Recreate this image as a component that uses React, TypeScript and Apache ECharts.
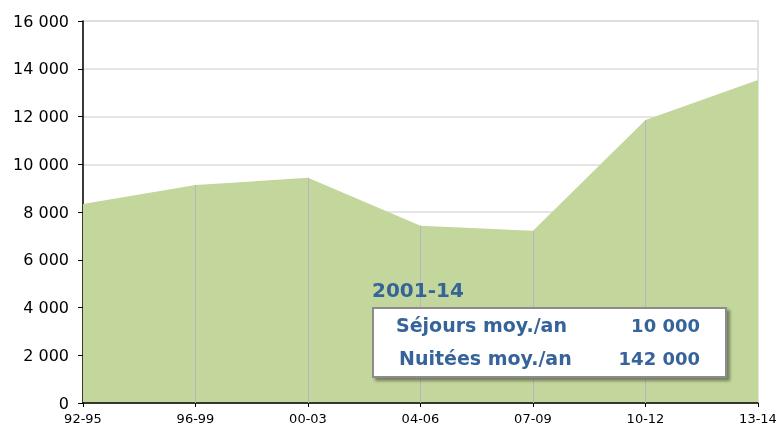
import React, { useEffect, useRef } from "react";
import * as echarts from "echarts";

const categories = ["92-95", "96-99", "00-03", "04-06", "07-09", "10-12", "13-14"];
const values = [8330, 9130, 9430, 7420, 7210, 11850, 13530];
const boxTitle = "2001-14";
const boxLabels = ["Séjours moy./an", "Nuitées moy./an"];
const boxValues = ["10 000", "142 000"];

const fmt = (v: number) => (v >= 1000 ? String(v).replace(/\B(?=(\d{3})+(?!\d))/g, " ") : String(v));

export default function App() {
  const ref = useRef<HTMLDivElement>(null);
  useEffect(() => {
    if (!ref.current) return;
    const chart = echarts.init(ref.current, undefined, { renderer: "svg" });
    const blue = "#36649a";
    const font = "Tahoma, 'DejaVu Sans', sans-serif";
    const dropLines = values.slice(1, values.length - 1).map((v, i) => [
      { coord: [i + 1, 0] },
      { coord: [i + 1, v] },
    ]);
    chart.setOption({
      animation: false,
      grid: {
        left: 83,
        right: 21,
        top: 21,
        bottom: 25,
        show: true,
        borderColor: "#d9d9d9",
        borderWidth: 1.5,
        containLabel: false,
        outerBoundsMode: "none",
      },
      xAxis: {
        type: "category",
        data: categories,
        boundaryGap: false,
        z: 3,
        axisLine: { lineStyle: { color: "#000", width: 1.5 } },
        axisTick: { show: true, length: 4, lineStyle: { color: "#000" } },
        axisLabel: { color: "#000", fontSize: 13, fontFamily: font, margin: 9 },
        splitLine: { show: false },
      },
      yAxis: {
        type: "value",
        min: 0,
        max: 16000,
        interval: 2000,
        axisLine: { show: true, lineStyle: { color: "#000", width: 1.5 } },
        axisTick: { show: true, length: 5, lineStyle: { color: "#000" } },
        axisLabel: { color: "#000", fontSize: 16, fontFamily: font, margin: 14, formatter: (v: number) => fmt(v) },
        splitLine: { show: true, lineStyle: { color: "#dcdcdc", width: 1.5 } },
      },
      series: [
        {
          type: "line",
          data: values,
          symbol: "none",
          z: 2,
          lineStyle: { width: 0, color: "#c3d69b" },
          itemStyle: { color: "#c3d69b" },
          areaStyle: { color: "#c3d69b", opacity: 1 },
          markLine: {
            silent: true,
            symbol: "none",
            label: { show: false },
            lineStyle: { color: "#b4b6c4", width: 1, type: "solid", opacity: 1 },
            data: dropLines,
          },
        },
      ],
      graphic: [
        {
          type: "text",
          left: 372,
          top: 280,
          z: 100,
          style: { text: boxTitle, fill: blue, font: `bold 20px ${font}` },
        },
        {
          type: "rect",
          shape: { x: 373, y: 308, width: 353, height: 69 },
          z: 100,
          style: {
            fill: "#fff",
            stroke: "#8c8c8c",
            lineWidth: 2,
            shadowBlur: 3,
            shadowOffsetX: 3,
            shadowOffsetY: 3,
            shadowColor: "rgba(0,0,0,0.4)",
          },
        },
        {
          type: "text",
          x: 396,
          y: 325,
          z: 101,
          style: { text: boxLabels[0], fill: blue, font: `bold 19px ${font}`, textVerticalAlign: "middle" },
        },
        {
          type: "text",
          x: 399,
          y: 358,
          z: 101,
          style: { text: boxLabels[1], fill: blue, font: `bold 19px ${font}`, textVerticalAlign: "middle" },
        },
        {
          type: "text",
          x: 700,
          y: 325,
          z: 101,
          style: { text: boxValues[0], fill: blue, font: `bold 18px ${font}`, textAlign: "right", textVerticalAlign: "middle" },
        },
        {
          type: "text",
          x: 700,
          y: 358,
          z: 101,
          style: { text: boxValues[1], fill: blue, font: `bold 18px ${font}`, textAlign: "right", textVerticalAlign: "middle" },
        },
      ],
    });
    return () => chart.dispose();
  }, []);
  return <div ref={ref} style={{ width: 779, height: 428, position: "fixed", left: 0, top: 0 }} />;
}
